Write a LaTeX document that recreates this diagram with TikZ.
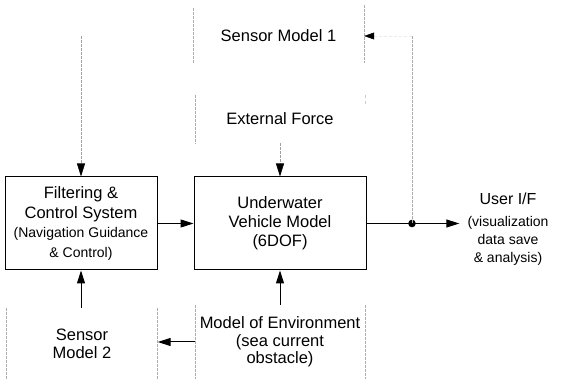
\documentclass[tikz,border=0pt]{standalone}
\usepackage{fontspec}
\setmainfont{Liberation Sans}
\usetikzlibrary{arrows.meta}
\begin{document}
\begin{tikzpicture}[x=1pt,y=-1pt,
  every node/.style={inner sep=0pt, align=center, font=\fontsize{16.5}{19.5}\selectfont},
  tipstyle/.style={-{Stealth[length=13pt,width=8pt,inset=0pt,color=black]}},
  flow/.style={line width=1pt, tipstyle},
  faintflow/.style={gray!75, line width=0.6pt, dash pattern=on 3pt off 1pt, tipstyle},
  faintedge/.style={gray!65, line width=0.6pt, dash pattern=on 3pt off 1pt},
  blockbox/.style={draw, line width=1pt, minimum height=93pt}]
\useasboundingbox (0,0) rectangle (566,379);

% blocks
\node (sm1) [minimum width=171pt, minimum height=55pt] at (278.5,35.5) {Sensor Model 1};
\node (ext) [minimum width=170pt, minimum height=48pt] at (280,119) {External Force};
\node (filt) [blockbox, minimum width=152pt] at (81,223.5)
  {Filtering \&\\Control System\\\fontsize{14}{19.5}\selectfont(Navigation Guidance\\\fontsize{14}{19.5}\selectfont\& Control)};
\node (veh) [blockbox, minimum width=172pt, font=\fontsize{16.5}{19}\selectfont] at (280,223.5)
  {Underwater\\Vehicle Model\\(6DOF)};
\node (env) [minimum width=170pt, minimum height=74pt, font=\fontsize{16.5}{17.5}\selectfont] at (280,342)
  {Model of Environment\\(sea current\\obstacle)};
\node (sm2) [minimum width=151pt, minimum height=71pt, font=\fontsize{16.5}{18}\selectfont] at (82,343.5)
  {Sensor\\Model 2};
\node (user) [inner xsep=8pt, font=\fontsize{14}{18}\selectfont] at (508,229)
  {{\fontsize{16}{18}\selectfont User I/F}\\[4pt](visualization\\data save\\\& analysis)};

% faint side edges of the model blocks
\draw[faintedge] (sm1.north west) -- (sm1.south west);
\draw[faintedge] (sm1.north east) ++(0,-3) -- (sm1.south east);
\draw[faintedge] (ext.north west) -- (ext.south west);
\draw[gray!40, line width=0.6pt, dash pattern=on 3pt off 3pt] (ext.north east) -- ++(0,12);
\draw[faintedge] (env.north west) -- (env.south west);
\draw[faintedge] (env.north east) -- (env.south east);
\draw[faintedge] (sm2.north west) -- (sm2.south west);
\draw[faintedge] (sm2.north east) -- (sm2.south east);

% connectors
\coordinate (fin) at (81,36);
\draw[faintflow] (fin) -- (filt.north);
\draw[faintflow] (ext.south) -- (veh.north);
\draw[flow] (filt.east) -- (veh.west);
\draw[flow] (veh.east) -- (veh.east -| user.west);
\coordinate (dot) at (412,223.5);
\coordinate (tap) at (412,36);
\fill (dot) circle (3.8pt);
\draw[faintedge] (dot) -- (tap);
\draw[gray!15, line width=0.5pt, dash pattern=on 3pt off 2pt, -{Stealth[length=10pt,width=7pt,inset=0pt,color=black]}] (tap) -- (tap -| sm1.east);
\draw[flow] (filt.south |- sm2.north) -- (filt.south);
\draw[flow] (veh.south |- env.north) -- (veh.south);
\draw[flow] (env.west) -- (sm2.east |- env.west);
\end{tikzpicture}
\end{document}
